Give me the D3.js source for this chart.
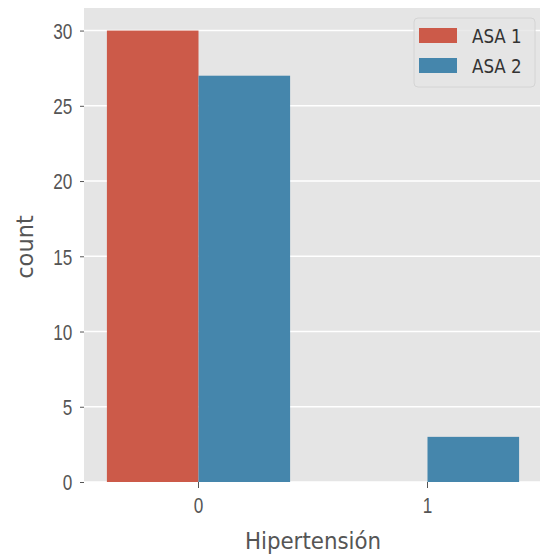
<!DOCTYPE html>
<html>
<head>
<meta charset="utf-8">
<script src="https://cdn.jsdelivr.net/npm/d3@7"></script>
<style>
  body { margin: 0; background: #fff; }
  svg { display: block; font-family: "DejaVu Sans", sans-serif; }
</style>
</head>
<body>
<div id="chart"></div>
<script>
const categories = ['0', '1'];
const hues = ['ASA 1', 'ASA 2'];
const asa1 = [30, 0];
const asa2 = [27, 3];
const yTicks = [0, 5, 10, 15, 20, 25, 30];
const colors = ['#cc5a49', '#4586ac'];

const width = 540;
const height = 556;
const margin = { top: 8, right: -2, bottom: 74, left: 84 };
const innerW = width - margin.left - margin.right;
const innerH = height - margin.top - margin.bottom;
const sx = 0.78; // glyphs in the picture are narrow

const rows = [];
categories.forEach((c, i) => {
  rows.push({ cat: c, hue: hues[0], value: asa1[i] });
  rows.push({ cat: c, hue: hues[1], value: asa2[i] });
});

const svg = d3.select('#chart')
  .append('svg')
  .attr('width', width)
  .attr('height', height);

const g = svg.append('g')
  .attr('transform', `translate(${margin.left},${margin.top})`);

const x = d3.scaleBand().domain(categories).range([0, innerW]).padding(0);
const xHue = d3.scaleBand().domain(hues)
  .range([x.bandwidth() * 0.1, x.bandwidth() * 0.9]).padding(0);
const y = d3.scaleLinear().domain([0, 31.5]).range([innerH, 0]);
const color = d3.scaleOrdinal().domain(hues).range(colors);

g.append('rect')
  .attr('width', innerW)
  .attr('height', innerH)
  .attr('fill', '#e5e5e5');

// horizontal grid only, categorical axis has none
g.selectAll('.grid')
  .data(yTicks)
  .enter()
  .append('line')
  .attr('x1', 0)
  .attr('x2', innerW)
  .attr('y1', d => y(d))
  .attr('y2', d => y(d))
  .attr('stroke', '#fff')
  .attr('stroke-width', 1.6);

g.selectAll('.bar')
  .data(rows.filter(d => d.value > 0))
  .enter()
  .append('rect')
  .attr('x', d => x(d.cat) + xHue(d.hue))
  .attr('y', d => y(d.value))
  .attr('width', xHue.bandwidth())
  .attr('height', d => innerH - y(d.value))
  .attr('fill', d => color(d.hue));

const yAxis = g.append('g')
  .call(d3.axisLeft(y).tickValues(yTicks).tickSize(4).tickPadding(11));
const xAxis = g.append('g')
  .attr('transform', `translate(0,${innerH})`)
  .call(d3.axisBottom(x).tickSize(6).tickPadding(9));

[yAxis, xAxis].forEach(a => {
  a.select('.domain').remove();
  a.selectAll('.tick line').attr('stroke', '#555').attr('stroke-width', 1);
  a.selectAll('.tick text')
    .attr('fill', '#555')
    .style('font-size', '22px')
    .attr('transform', `scale(${sx},1)`);
});
yAxis.selectAll('.tick text').attr('dy', '0.36em');

svg.append('text')
  .attr('transform', 'translate(313,549) scale(0.93,1)')
  .attr('text-anchor', 'middle')
  .attr('fill', '#555')
  .style('font-size', '23px')
  .text('Hipertensión');

svg.append('text')
  .attr('transform', 'translate(33,247) rotate(-90) scale(0.98,1)')
  .attr('text-anchor', 'middle')
  .attr('fill', '#555')
  .style('font-size', '23px')
  .text('count');

// legend
const legend = svg.append('g').attr('transform', 'translate(414,18)');
legend.append('rect')
  .attr('width', 121)
  .attr('height', 69)
  .attr('rx', 4)
  .attr('fill', '#e5e5e5')
  .attr('fill-opacity', 0.8)
  .attr('stroke', '#d4d4d4');

const item = legend.selectAll('.item')
  .data(hues)
  .enter()
  .append('g')
  .attr('transform', (d, i) => `translate(5,${10 + i * 30})`);
item.append('rect')
  .attr('width', 38)
  .attr('height', 15)
  .attr('fill', d => color(d));
item.append('text')
  .attr('transform', 'translate(53,15) scale(0.88,1)')
  .attr('fill', '#333')
  .style('font-size', '19px')
  .text(d => d);
</script>
</body>
</html>
